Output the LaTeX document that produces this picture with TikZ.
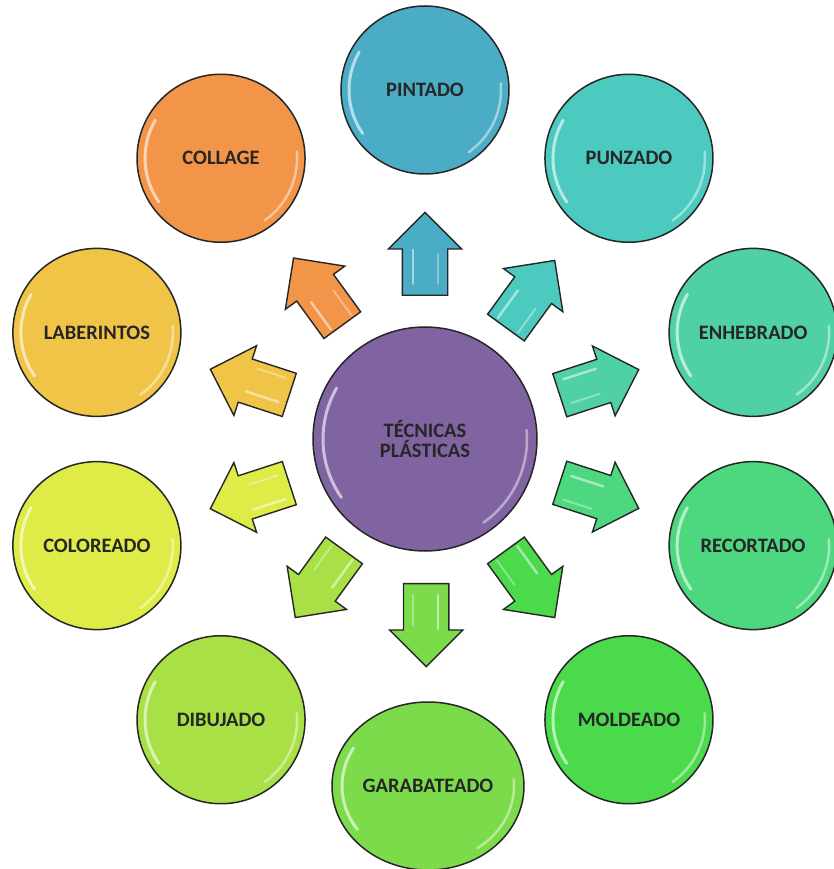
\documentclass[tikz,border=0pt]{standalone}
\usepackage{fontspec}
\setmainfont{Carlito}
\usepackage{tikz}
\usetikzlibrary{calc, shapes.geometric, shapes.arrows}

\definecolor{ccentro}{HTML}{8064A2}
\definecolor{cpintado}{HTML}{4BACC6}
\definecolor{cpunzado}{HTML}{4CCAC0}
\definecolor{cenhebrado}{HTML}{50D1A4}
\definecolor{crecortado}{HTML}{4DD77F}
\definecolor{cmoldeado}{HTML}{4ADA4C}
\definecolor{cgarabateado}{HTML}{7CDB4A}
\definecolor{cdibujado}{HTML}{A8E046}
\definecolor{ccoloreado}{HTML}{DFEB46}
\definecolor{claberintos}{HTML}{F0C446}
\definecolor{ccollage}{HTML}{F39548}

\begin{document}
\begin{tikzpicture}[x=1pt, y=1pt, tecnica/.style={circle, draw=black!85, line width=1.5pt, minimum size=168pt, inner sep=0pt, align=center, text=black!85, font=\bfseries\fontsize{20.5}{20}\selectfont, brillo={76pt}{76pt}}, flecha/.style={single arrow, draw=black!85, line width=1.4pt, minimum height=83pt, minimum width=72pt, single arrow head extend=14pt, inner xsep=0pt, inner ysep=22pt, anchor=tail, brillof}, brillof/.style={path picture={\draw[white, opacity=.5, line width=2.5pt, line cap=round] ([shift={(-30pt,12pt)}]path picture bounding box.center) -- ([shift={(4pt,12pt)}]path picture bounding box.center); \draw[white, opacity=.35, line width=2pt, line cap=round] ([shift={(-30pt,-13pt)}]path picture bounding box.center) -- ([shift={(0pt,-13pt)}]path picture bounding box.center);}}, brillo/.style 2 args={path picture={\draw[white, opacity=.6, line width=3pt, line cap=round] ([shift={(150:#1 and #2)}]path picture bounding box.center) arc[start angle=150, end angle=215, x radius=#1, y radius=#2]; \draw[white, opacity=.45, line width=2.5pt, line cap=round] ([shift={(-55:#1 and #2)}]path picture bounding box.center) arc[start angle=-55, end angle=5, x radius=#1, y radius=#2];}}]
      \useasboundingbox (-425,-430) rectangle (409,439);

      \node[tecnica, fill=ccentro, minimum size=224pt, brillo={102pt}{102pt}] (centro) at (0,0) {TÉCNICAS\\PLÁSTICAS};
      \node[tecnica, fill=cpintado] (pintado) at (90:349) {PINTADO}; \node[tecnica, fill=cpunzado] (punzado) at (54:347) {PUNZADO};
      \node[tecnica, fill=cenhebrado] (enhebrado) at (18:345) {ENHEBRADO}; \node[tecnica, fill=crecortado] (recortado) at (-18:345) {RECORTADO};
      \node[tecnica, fill=cmoldeado] (moldeado) at (-54:347) {MOLDEADO};
      \node[tecnica, ellipse, fill=cgarabateado, minimum width=192pt, minimum height=168pt, brillo={86pt}{76pt}] (garabateado) at (3,-347) {GARABATEADO};
      \node[tecnica, fill=cdibujado] (dibujado) at (-126:347) {DIBUJADO}; \node[tecnica, fill=ccoloreado] (coloreado) at (-162:345) {COLOREADO};
      \node[tecnica, fill=claberintos] (laberintos) at (162:345) {LABERINTOS}; \node[tecnica, fill=ccollage] (collage) at (126:347) {COLLAGE};

      \node[flecha, fill=cpintado, rotate=90] (f1) at ($(centro)!143pt!(pintado)$) {};
      \node[flecha, fill=cpunzado, rotate=54] (f2) at ($(centro)!137pt!(punzado)$) {};
      \node[flecha, fill=cenhebrado, rotate=18] (f3) at ($(centro)!141pt!(enhebrado)$) {};
      \node[flecha, fill=crecortado, rotate=-18] (f4) at ($(centro)!141pt!(recortado)$) {};
      \node[flecha, fill=cmoldeado, rotate=-54] (f5) at ($(centro)!137pt!(moldeado)$) {};
      \node[flecha, fill=cgarabateado, rotate=-90] (f6) at ($(centro)!144pt!(garabateado)$) {};
      \node[flecha, fill=cdibujado, rotate=-126] (f7) at ($(centro)!137pt!(dibujado)$) {};
      \node[flecha, fill=ccoloreado, rotate=-162] (f8) at ($(centro)!142pt!(coloreado)$) {};
      \node[flecha, fill=claberintos, rotate=162] (f9) at ($(centro)!142pt!(laberintos)$) {};
      \node[flecha, fill=ccollage, rotate=126] (f10) at ($(centro)!140pt!(collage)$) {};
    \end{tikzpicture}
\end{document}
